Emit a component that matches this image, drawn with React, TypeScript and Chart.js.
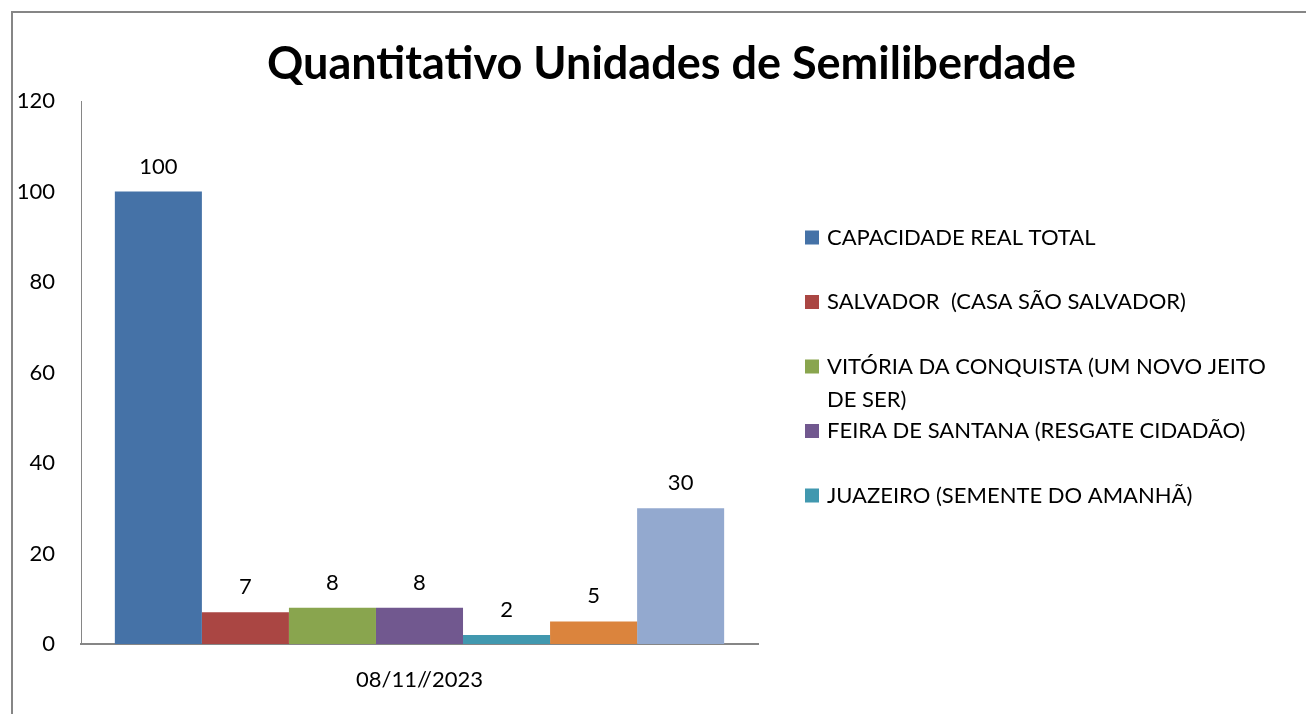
import React, { useEffect, useRef } from "react";
import { Chart, registerables } from "chart.js";

Chart.register(...registerables);

const FONT = "Lato, 'Open Sans', sans-serif";

const title = "Quantitativo Unidades de Semiliberdade";
const categories = ["08/11//2023"];
const seriesNames = [
  "CAPACIDADE REAL TOTAL",
  "SALVADOR  (CASA SÃO SALVADOR)",
  "VITÓRIA DA CONQUISTA (UM NOVO JEITO DE SER)",
  "FEIRA DE SANTANA (RESGATE CIDADÃO)",
  "JUAZEIRO (SEMENTE DO AMANHÃ)",
  "",
  "",
];
const seriesValues = [[100], [7], [8], [8], [2], [5], [30]];
const seriesColors = [
  "#4572A7",
  "#AA4643",
  "#89A54E",
  "#71588F",
  "#4198AF",
  "#DB843D",
  "#93A9CF",
];
const legendCount = 5;
const yMin = 0;
const yMax = 120;
const yStep = 20;

function wrapText(ctx: CanvasRenderingContext2D, text: string, maxW: number): string[] {
  const words = text.split(" ");
  const lines: string[] = [];
  let cur = "";
  for (let i = 0; i < words.length; i++) {
    const w = words[i];
    const test = cur === "" ? w : cur + " " + w;
    if (cur !== "" && w !== "" && ctx.measureText(test).width > maxW) {
      lines.push(cur);
      cur = w;
    } else {
      cur = test;
    }
  }
  if (cur !== "") lines.push(cur);
  return lines;
}

const decorPlugin = {
  id: "decor",
  beforeDraw(chart: any) {
    const ctx = chart.ctx;
    ctx.save();
    ctx.fillStyle = "#ffffff";
    ctx.fillRect(0, 0, chart.width, chart.height);
    ctx.strokeStyle = "#868686";
    ctx.lineWidth = 2;
    ctx.strokeRect(12, 12, chart.width + 40, chart.height + 40);
    ctx.restore();
  },
  afterDraw(chart: any) {
    const ctx = chart.ctx;
    ctx.save();
    // title
    ctx.fillStyle = "#000";
    ctx.font = `bold 45px ${FONT}`;
    ctx.textAlign = "center";
    ctx.textBaseline = "middle";
    ctx.fillText(title, 671.5, 64);

    // data labels
    ctx.font = `22px ${FONT}`;
    ctx.textBaseline = "middle";
    chart.data.datasets.forEach((ds: any, i: number) => {
      const meta = chart.getDatasetMeta(i);
      meta.data.forEach((bar: any, j: number) => {
        ctx.fillText(String(ds.data[j]), bar.x, bar.y - 25);
      });
    });

    // legend
    ctx.textAlign = "left";
    const lx = 805;
    const tx = 827;
    let y = 237.5;
    const pitch = 64.5;
    const lineH = 33.5;
    for (let i = 0; i < legendCount; i++) {
      const ds = chart.data.datasets[i];
      ctx.fillStyle = ds.backgroundColor;
      ctx.fillRect(lx, y - 7, 14, 14);
      ctx.fillStyle = "#000";
      const lines = wrapText(ctx, ds.label, 465);
      lines.forEach((ln, k) => ctx.fillText(ln, tx, y + k * lineH));
      y += pitch;
    }
    ctx.restore();
  },
};

export default function App() {
  const ref = useRef<HTMLCanvasElement | null>(null);
  useEffect(() => {
    if (!ref.current) return;
    const chart = new Chart(ref.current, {
      type: "bar",
      data: {
        labels: categories,
        datasets: seriesValues.map((vals, i) => ({
          label: seriesNames[i],
          data: vals,
          backgroundColor: seriesColors[i],
          borderWidth: 0,
          categoryPercentage: 0.9,
          barPercentage: 1.0,
        })),
      },
      options: {
        responsive: false,
        animation: false,
        layout: { padding: { left: 0, top: 101, right: 548, bottom: 0 } },
        plugins: {
          legend: { display: false },
          title: { display: false },
          tooltip: { enabled: false },
        },
        scales: {
          x: {
            grid: { display: false, drawTicks: false },
            border: { display: true, color: "#868686", width: 2 },
            ticks: { color: "#000", font: { family: FONT, size: 22 }, padding: 23 },
            afterFit: (s: any) => {
              s.height = 70;
            },
          },
          y: {
            min: yMin,
            max: yMax,
            grid: { display: false, drawTicks: false },
            border: { display: true, color: "#868686", width: 1 },
            ticks: {
              stepSize: yStep,
              color: "#000",
              font: { family: FONT, size: 22 },
              padding: 26,
            },
            afterFit: (s: any) => {
              s.width = 81;
            },
          },
        },
      },
      plugins: [decorPlugin],
    });
    return () => chart.destroy();
  }, []);
  return (
    <div style={{ position: "absolute", left: 0, top: 0, width: 1306, height: 714, background: "#fff" }}>
      <canvas ref={ref} width={1306} height={714} style={{ display: "block" }} />
    </div>
  );
}
